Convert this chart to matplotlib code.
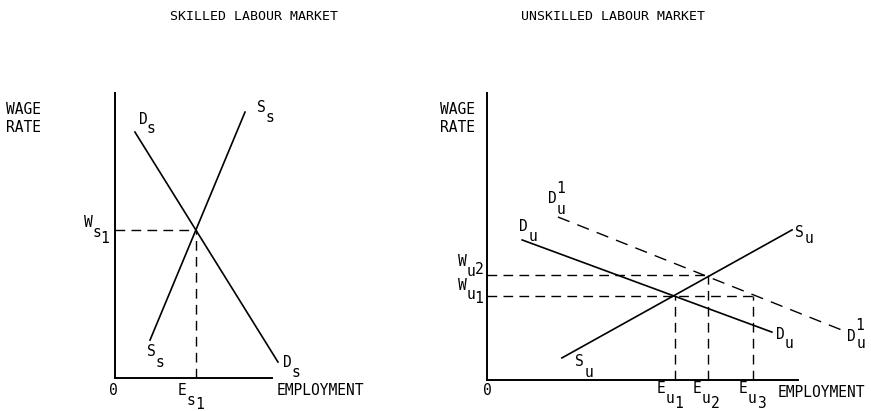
import matplotlib.pyplot as plt

W, H = 871, 411

# skilled labour market, axis units 0-10
skill_demand_x = [1.27, 10.38]
skill_demand_y = [8.63, 0.56]
skill_supply_x = [2.23, 8.28]
skill_supply_y = [1.33, 9.33]
skill_emp = 5.15   # E_s1
skill_wage = 5.2   # W_s1

# unskilled labour market, axis units 0-10
unsk_demand_x = [1.13, 9.16]
unsk_demand_y = [4.88, 1.67]
unsk_supply_x = [2.41, 9.81]
unsk_supply_y = [0.77, 5.23]
unsk_demand1_x = [2.28, 11.41]
unsk_demand1_y = [5.68, 1.74]
unsk_wages = [2.93, 3.65]            # W_u1, W_u2
unsk_emp = [6.05, 7.11, 8.55]        # E_u1, E_u2, E_u3

FONT = "DejaVu Sans Mono"
DASH = (7, 4.5)


def px(x, y):
    return x / W, 1 - y / H


def txt(x, y, s, size=10.5, ha="center"):
    fig.text(*px(x, y), s, fontsize=size, family=FONT, ha=ha, va="center")


def make_axes(left, top, right, bottom):
    x0, y0 = px(left, bottom)
    ax = fig.add_axes([x0, y0, (right - left) / W, (bottom - top) / H])
    ax.set_xlim(0, 10)
    ax.set_ylim(0, 10)
    for side in ["top", "right"]:
        ax.spines[side].set_visible(False)
    for side in ["left", "bottom"]:
        ax.spines[side].set_linewidth(1.4)
    ax.set_xticks([])
    ax.set_yticks([])
    ax.patch.set_alpha(0)
    return ax


fig = plt.figure(figsize=(W / 100, H / 100), dpi=100)

# ---- skilled
ax1 = make_axes(115, 93, 272, 378)
ax1.plot(skill_demand_x, skill_demand_y, color="k", lw=1.2, clip_on=False)
ax1.plot(skill_supply_x, skill_supply_y, color="k", lw=1.2, clip_on=False)
ax1.plot([0, skill_emp], [skill_wage, skill_wage], color="k", lw=1.0, dashes=DASH)
ax1.plot([skill_emp, skill_emp], [0, skill_wage], color="k", lw=1.0, dashes=DASH)

# ---- unskilled
ax2 = make_axes(487, 93, 798, 380)
ax2.plot(unsk_demand_x, unsk_demand_y, color="k", lw=1.2, clip_on=False)
ax2.plot(unsk_supply_x, unsk_supply_y, color="k", lw=1.2, clip_on=False)
ax2.plot(unsk_demand1_x, unsk_demand1_y, color="k", lw=1.0, dashes=(9, 6), clip_on=False)
ax2.plot([0, unsk_emp[2]], [unsk_wages[0]] * 2, color="k", lw=1.0, dashes=DASH)
ax2.plot([0, unsk_emp[1]], [unsk_wages[1]] * 2, color="k", lw=1.0, dashes=DASH)
ax2.plot([unsk_emp[0]] * 2, [0, unsk_wages[0]], color="k", lw=1.0, dashes=DASH)
ax2.plot([unsk_emp[1]] * 2, [0, unsk_wages[1]], color="k", lw=1.0, dashes=DASH)
ax2.plot([unsk_emp[2]] * 2, [0, unsk_wages[0]], color="k", lw=1.0, dashes=DASH)

# ---- titles and axis labels
txt(254, 16, "SKILLED LABOUR MARKET", size=9.5)
txt(613, 17, "UNSKILLED LABOUR MARKET", size=9.5)

for x0 in [6, 440]:
    txt(x0, 109, "WAGE", ha="left")
    txt(x0, 127, "RATE", ha="left")

txt(113, 390, "0")
txt(487, 390, "0")
txt(277, 390, "EMPLOYMENT", ha="left")
txt(778, 392, "EMPLOYMENT", ha="left")

# skilled curve labels
for x, y, s in [
    (143, 119, "D"), (151, 128, "s"),
    (261, 108, "S"), (270, 118, "s"),
    (88, 222, "W"), (97, 232, "s"), (105, 238, "1"),
    (151, 351, "S"), (160, 362, "s"),
    (287, 362, "D"), (296, 372, "s"),
    (182, 390, "E"), (191, 400, "s"), (200, 404, "1"),
]:
    txt(x, y, s)

# unskilled curve labels
for x, y, s in [
    (552, 198, "D"), (561, 188, "1"), (561, 209, "u"),
    (523, 226, "D"), (533, 236, "u"),
    (799, 232, "S"), (809, 238, "u"),
    (462, 261, "W"), (471, 271, "u"), (479, 269, "2"),
    (462, 285, "W"), (471, 294, "u"), (479, 298, "1"),
    (780, 334, "D"), (789, 343, "u"),
    (851, 336, "D"), (860, 325, "1"), (861, 343, "u"),
    (579, 361, "S"), (589, 372, "u"),
    (661, 388, "E"), (670, 398, "u"), (679, 403, "1"),
    (697, 388, "E"), (706, 398, "u"), (715, 403, "2"),
    (743, 388, "E"), (752, 398, "u"), (761, 403, "3"),
]:
    txt(x, y, s)

fig.savefig("out.png", dpi=100)
